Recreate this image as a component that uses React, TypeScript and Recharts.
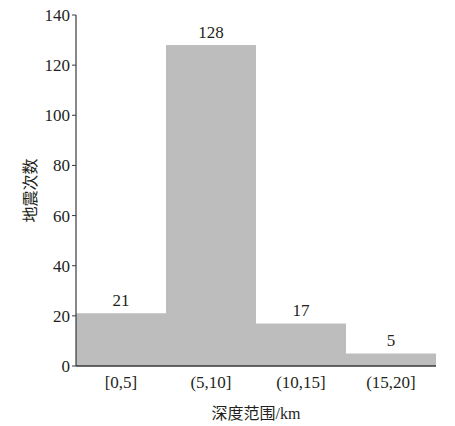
import { BarChart, Bar, XAxis, YAxis, LabelList } from "recharts";

// depth ranges (km) and earthquake counts
const categories = ["[0,5]", "(5,10]", "(10,15]", "(15,20]"];
const counts = [21, 128, 17, 5];
const yTicks = [0, 20, 40, 60, 80, 100, 120, 140];

const data = categories.map((range, i) => ({ range, count: counts[i] }));

const FONT = "Liberation Serif, DejaVu Serif, Noto Sans CJK SC, serif";
const TEXT = "#231f20";
const AXIS = "#3a3a3a";

const tickStyle = { fill: TEXT, fontSize: 17, fontFamily: FONT, style: { fontFamily: FONT } };

export default function App() {
  return (
    <div style={{ position: "absolute", left: 0, top: 0, background: "#fff", fontFamily: FONT }}>
      <BarChart
        width={455}
        height={426}
        data={data}
        margin={{ top: 15, right: 19, bottom: 0, left: 0 }}
        barCategoryGap={0}
      >
        <XAxis
          dataKey="range"
          height={60}
          tickLine={false}
          tickMargin={4}
          axisLine={{ stroke: AXIS, strokeWidth: 1.5 }}
          tick={tickStyle}
          label={{
            value: "深度范围/km",
            position: "insideBottom",
            offset: 7,
            fill: TEXT,
            fontSize: 16,
            fontFamily: FONT,
          }}
        />
        <YAxis
          width={76}
          domain={[0, 140]}
          ticks={yTicks}
          interval={0}
          tickSize={4}
          tickMargin={2}
          axisLine={{ stroke: AXIS, strokeWidth: 1.2 }}
          tickLine={{ stroke: AXIS }}
          tick={tickStyle}
          label={{
            value: "地震次数",
            angle: -90,
            position: "center",
            dx: -8,
            fill: TEXT,
            fontSize: 16,
            fontFamily: FONT,
          }}
        />
        <Bar dataKey="count" fill="#bdbdbe" isAnimationActive={false}>
          <LabelList
            dataKey="count"
            position="top"
            offset={7}
            fill={TEXT}
            fontSize={17}
            fontFamily={FONT}
          />
        </Bar>
      </BarChart>
    </div>
  );
}
